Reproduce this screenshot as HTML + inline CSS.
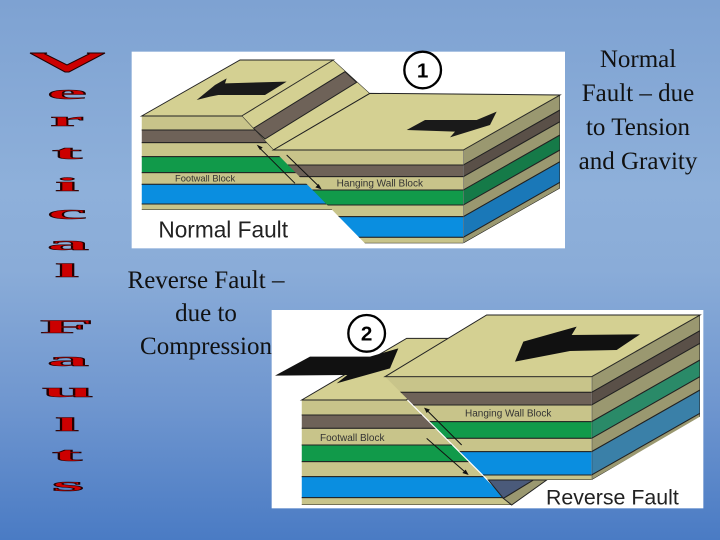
<!DOCTYPE html>
<html><head><meta charset="utf-8"><style>
html,body{margin:0;padding:0}
body{width:720px;height:540px;position:relative;overflow:hidden;
background:linear-gradient(180deg,#7ea2d2 0%,#8eb0da 35%,#8aacd8 50%,#6f96cf 75%,#4a7bc4 100%);
font-family:"Liberation Serif",serif}
.t{position:absolute;text-align:center;color:#111;font-size:25px;line-height:34px}
svg{position:absolute}
</style></head><body>

<svg style="left:0;top:0" width="130" height="540" viewBox="0 0 130 540">
<polygon points="30,53 47,53 45,54 67,65 89,54 87,53 105,53 69,72 65,72" fill="#c00" stroke="#200" stroke-width="1"/>
<g font-family="Liberation Serif,serif" font-weight="bold" font-size="19" fill="#c00" stroke="#200" stroke-width="0.5" lengthAdjust="spacingAndGlyphs">
<text x="47" y="99" textLength="40" lengthAdjust="spacingAndGlyphs">e</text>
<text x="50" y="126" textLength="34" lengthAdjust="spacingAndGlyphs">r</text>
<text x="52" y="159" textLength="30" lengthAdjust="spacingAndGlyphs">t</text>
<text x="55" y="191" textLength="24" lengthAdjust="spacingAndGlyphs">i</text>
<text x="47" y="219" textLength="40" lengthAdjust="spacingAndGlyphs">c</text>
<text x="47" y="250" textLength="42" lengthAdjust="spacingAndGlyphs">a</text>
<text x="55" y="277" textLength="24" lengthAdjust="spacingAndGlyphs">l</text>
<text x="40" y="333" textLength="54" lengthAdjust="spacingAndGlyphs">F</text>
<text x="47" y="366" textLength="42" lengthAdjust="spacingAndGlyphs">a</text>
<text x="42" y="397" textLength="52" lengthAdjust="spacingAndGlyphs">u</text>
<text x="55" y="431" textLength="24" lengthAdjust="spacingAndGlyphs">l</text>
<text x="52" y="461" textLength="30" lengthAdjust="spacingAndGlyphs">t</text>
<text x="52" y="491" textLength="32" lengthAdjust="spacingAndGlyphs">s</text>
</g></svg>

<div class="t" style="left:565px;top:43px;width:146px">Normal<br>Fault – due<br>to Tension<br>and Gravity</div>
<div class="t" style="left:108px;top:264px;width:196px;font-size:25px;line-height:33px">Reverse Fault –<br>due to<br>Compression</div>

<!-- Normal fault -->
<svg style="left:130px;top:50px" width="440" height="200" viewBox="0 0 1320 600">
<defs>
<clipPath id="fw1"><polygon points="35,198 335,198 611,480 35,480"/></clipPath>
<clipPath id="hw1"><polygon points="430,300 1000,300 1000,580 705,580"/></clipPath>
<clipPath id="sd1"><polygon points="1000,300 1290,135 1290,415 1000,580"/></clipPath>
<clipPath id="sc1"><polygon points="335,198 610,30 720,130 430,300"/></clipPath>
</defs>
<rect x="5" y="5" width="1300" height="590" fill="#fff"/>
<g clip-path="url(#fw1)" stroke="#222" stroke-width="3">
<rect x="0" y="198" width="700" height="42" fill="#c8c48a"/><rect x="0" y="240" width="700" height="38" fill="#6e6258"/>
<rect x="0" y="278" width="700" height="42" fill="#c8c48a"/><rect x="0" y="320" width="700" height="48" fill="#119a4a"/>
<rect x="0" y="368" width="700" height="35" fill="#c8c48a"/><rect x="0" y="403" width="700" height="59" fill="#0a8ee0"/>
<rect x="0" y="462" width="700" height="18" fill="#c8c48a"/></g>
<polygon points="35,198 330,30 610,30 335,198" fill="#d4d092" stroke="#222" stroke-width="3"/>
<g clip-path="url(#sc1)" stroke="#222" stroke-width="3">
<polygon points="335,198 610,30 720,130 430,300" fill="#d4d092"/>
<polygon points="370,235 645,65 680,97 405,267" fill="#6e6258"/></g>
<polygon points="430,300 720,130 1290,135 1000,300" fill="#d4d092" stroke="#222" stroke-width="3"/>
<g clip-path="url(#hw1)" stroke="#222" stroke-width="3">
<rect x="400" y="300" width="700" height="45" fill="#c8c48a"/><rect x="400" y="345" width="700" height="35" fill="#6e6258"/>
<rect x="400" y="380" width="700" height="40" fill="#c8c48a"/><rect x="400" y="420" width="700" height="45" fill="#119a4a"/>
<rect x="400" y="465" width="700" height="35" fill="#c8c48a"/><rect x="400" y="500" width="700" height="62" fill="#0a8ee0"/>
<rect x="400" y="562" width="700" height="18" fill="#c8c48a"/></g>
<g clip-path="url(#sd1)" stroke="#222" stroke-width="3">
<polygon points="1000,300 1290,135 1290,180 1000,345" fill="#9a9870"/>
<polygon points="1000,345 1290,180 1290,215 1000,380" fill="#5a5048"/>
<polygon points="1000,380 1290,215 1290,255 1000,420" fill="#9a9870"/>
<polygon points="1000,420 1290,255 1290,300 1000,465" fill="#157a48"/>
<polygon points="1000,465 1290,300 1290,335 1000,500" fill="#9a9870"/>
<polygon points="1000,500 1290,335 1290,397 1000,562" fill="#1a78b8"/>
<polygon points="1000,562 1290,397 1290,415 1000,580" fill="#9a9870"/></g>
<polygon points="200,150 255,105 290,85 285,100 470,95 405,135 265,135 240,140" fill="#1a1a1a"/>
<polygon points="830,240 885,210 1040,210 1100,185 1080,225 960,262 975,245" fill="#1a1a1a"/>
<g stroke="#111" stroke-width="3"><line x1="385" y1="290" x2="495" y2="400"/><line x1="470" y1="315" x2="570" y2="412"/></g>
<polygon points="380,284 398,292 390,300" fill="#111"/><polygon points="575,418 556,412 566,402" fill="#111"/>
<text x="135" y="395" font-family="Liberation Sans,sans-serif" font-size="28" fill="#333">Footwall Block</text>
<text x="620" y="410" font-family="Liberation Sans,sans-serif" font-size="30" fill="#333">Hanging Wall Block</text>
<text x="85" y="562" font-family="Liberation Sans,sans-serif" font-size="68" fill="#222">Normal Fault</text>
<circle cx="878" cy="60" r="55" fill="#fff" stroke="#000" stroke-width="7"/>
<text x="878" y="82" text-anchor="middle" font-family="Liberation Sans,sans-serif" font-weight="bold" font-size="62">1</text>
</svg>

<!-- Reverse fault -->
<svg style="left:270px;top:305px" width="440" height="210" viewBox="0 0 1320 630">
<defs>
<clipPath id="fw2"><polygon points="95,285 410,285 725,600 95,600"/></clipPath>
<clipPath id="hw2"><polygon points="345,215 965,215 965,525 655,525"/></clipPath>
<clipPath id="sd2"><polygon points="965,215 1290,30 1290,335 965,525"/></clipPath>
</defs>
<rect x="5" y="15" width="1295" height="595" fill="#fff"/>
<polygon points="95,285 410,100 560,100 410,285" fill="#d4d092" stroke="#222" stroke-width="3"/>
<g clip-path="url(#fw2)" stroke="#222" stroke-width="3">
<rect x="0" y="285" width="800" height="45" fill="#c8c48a"/><rect x="0" y="330" width="800" height="40" fill="#6e6258"/>
<rect x="0" y="370" width="800" height="50" fill="#c8c48a"/><rect x="0" y="420" width="800" height="50" fill="#119a4a"/>
<rect x="0" y="470" width="800" height="45" fill="#c8c48a"/><rect x="0" y="515" width="800" height="63" fill="#0a8ee0"/>
<rect x="0" y="578" width="800" height="22" fill="#c8c48a"/></g>
<polygon points="700,580 790,525 830,525 725,600" fill="#9a9870" stroke="#222" stroke-width="3"/>
<polygon points="655,525 790,525 700,580" fill="#4a5a7a" stroke="#222" stroke-width="3"/>
<polygon points="345,215 650,30 1290,30 965,215" fill="#d4d092" stroke="#222" stroke-width="3"/>
<g clip-path="url(#hw2)" stroke="#222" stroke-width="3">
<rect x="300" y="215" width="700" height="47" fill="#c8c48a"/><rect x="300" y="262" width="700" height="38" fill="#6e6258"/>
<rect x="300" y="300" width="700" height="50" fill="#c8c48a"/><rect x="300" y="350" width="700" height="50" fill="#119a4a"/>
<rect x="300" y="400" width="700" height="40" fill="#c8c48a"/><rect x="300" y="440" width="700" height="70" fill="#0a8ee0"/>
<rect x="300" y="510" width="700" height="15" fill="#c8c48a"/></g>
<g clip-path="url(#sd2)" stroke="#222" stroke-width="3">
<polygon points="965,215 1290,30 1290,77 965,262" fill="#9a9870"/>
<polygon points="965,262 1290,77 1290,115 965,300" fill="#5a5048"/>
<polygon points="965,300 1290,115 1290,165 965,350" fill="#9a9870"/>
<polygon points="965,350 1290,165 1290,215 965,400" fill="#2a8a68"/>
<polygon points="965,400 1290,215 1290,255 965,440" fill="#9a9870"/>
<polygon points="965,440 1290,255 1290,325 965,510" fill="#3a80a8"/>
<polygon points="965,510 1290,325 1290,340 965,525" fill="#9a9870"/></g>
<polygon points="735,170 760,110 920,65 905,90 1110,88 1040,135 900,138" fill="#111"/>
<polygon points="15,212 120,155 300,155 385,130 360,190 200,235 232,210" fill="#111"/>
<g stroke="#111" stroke-width="3"><line x1="470" y1="315" x2="575" y2="420"/><line x1="470" y1="400" x2="590" y2="505"/></g>
<polygon points="462,308 480,314 470,324" fill="#111"/><polygon points="596,510 577,504 587,494" fill="#111"/>
<text x="585" y="335" font-family="Liberation Sans,sans-serif" font-size="30" fill="#333">Hanging Wall Block</text>
<text x="150" y="408" font-family="Liberation Sans,sans-serif" font-size="30" fill="#333">Footwall Block</text>
<text x="828" y="598" font-family="Liberation Sans,sans-serif" font-size="64" fill="#222">Reverse Fault</text>
<circle cx="290" cy="85" r="55" fill="#fff" stroke="#000" stroke-width="7"/>
<text x="290" y="107" text-anchor="middle" font-family="Liberation Sans,sans-serif" font-weight="bold" font-size="62">2</text>
</svg>
</body></html>
